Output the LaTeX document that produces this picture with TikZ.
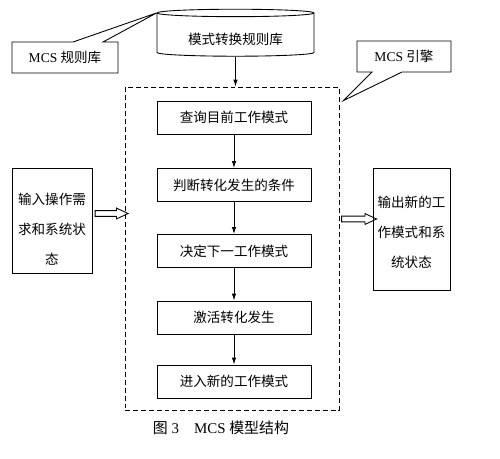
\documentclass[tikz,border=0pt]{standalone}
\usepackage{fontspec}
\setmainfont{Liberation Serif}
\newfontfamily\cjk{Noto Sans CJK SC}
\usetikzlibrary{shapes.geometric, shapes.arrows, shapes.callouts, arrows.meta, positioning}

\begin{document}
\begin{tikzpicture}[x=0.02cm, y=-0.02cm,
    box/.style={rectangle, draw, line width=0.5pt, minimum width=3.08cm, minimum height=0.66cm, text centered, font=\cjk\fontsize{7.7}{9}\selectfont},
    sidebox/.style={rectangle, draw, line width=0.5pt, inner sep=0pt, align=center, font=\cjk\fontsize{7.7}{17}\selectfont},
    note/.style={rectangle callout, draw, fill=white, line width=0.5pt, minimum height=0.62cm, callout pointer width=0.6cm, font=\fontsize{7.7}{9}\selectfont},
    arrow/.style={-{Latex[length=1.4mm, width=0.9mm]}, line width=0.5pt},
    fatarrow/.style={single arrow, draw, line width=0.5pt, inner sep=1.4pt, minimum width=0pt, single arrow head extend=0.05cm, single arrow tip angle=50}
]
\useasboundingbox (0,0) rectangle (500,458);

% Rule database on top
\node[cylinder, shape border rotate=90, draw, line width=0.5pt, aspect=0.07, minimum width=3.14cm, minimum height=0.94cm, text height=10pt, text depth=0pt, font=\cjk\fontsize{7.7}{9}\selectfont] (rules) at (235.5,35.5) {模式转换规则库};

% Engine frame
\node[draw, line width=0.5pt, dash pattern=on 2.8pt off 1.7pt, minimum width=4.28cm, minimum height=6.46cm] (engine) at (232,248.5) {};

% Steps inside the engine
\node[box] (query) at (234,117.5) {查询目前工作模式};
\node[box] (judge) at (234,185) {判断转化发生的条件};
\node[box] (decide) at (234,251) {决定下一工作模式};
\node[box] (activate) at (234,317.5) {激活转化发生};
\node[box] (enter) at (234,381.5) {进入新的工作模式};

% Arrows
\draw[arrow] (rules.south) -- (rules.south |- engine.north);
\draw[arrow] (query) -- (judge);
\draw[arrow] (judge) -- (decide);
\draw[arrow] (decide) -- (activate);
\draw[arrow] (activate) -- (enter);

% Input and output
\node[sidebox, minimum width=1.6cm, minimum height=2.1cm] (input) at (52,220.5) {\rule{0pt}{16pt}输入操作需\\求和系统状\\态};
\node[sidebox, minimum width=1.54cm, minimum height=2.44cm] (output) at (411.5,229) {\rule{0pt}{10pt}输出新的工\\作模式和系\\统状态};
\node[fatarrow, minimum height=0.66cm] (inarrow) at (108.5,213.5) {};
\node[fatarrow, minimum height=0.70cm] (outarrow) at (356,219) {};

% Callout labels
\node[note, minimum width=2.12cm, callout absolute pointer={(rules.before top)}] (rulebase) at (65,57.5) {MCS {\cjk 规则库}};
\node[note, minimum width=1.88cm, callout absolute pointer={([shift={(4,14)}]engine.north east)}] (enginelabel) at (404,56.5) {MCS {\cjk 引擎}};

% Caption
\node[font=\fontsize{8.5}{10}\selectfont] (caption) at (221,428) {{\cjk 图} 3\quad MCS {\cjk 模型结构}};
\end{tikzpicture}
\end{document}
